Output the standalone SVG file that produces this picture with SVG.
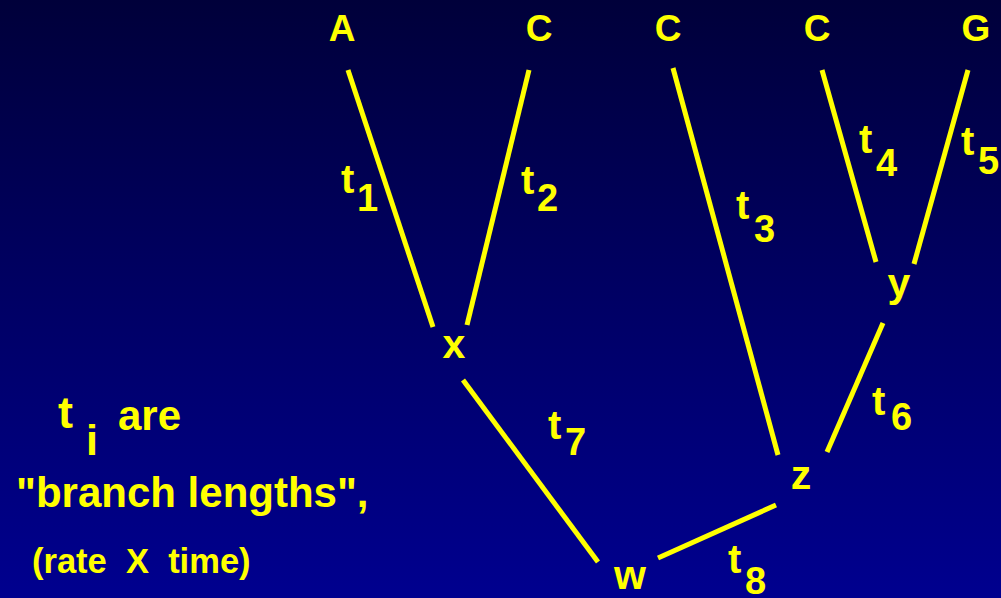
<svg xmlns="http://www.w3.org/2000/svg" width="1001" height="598" viewBox="0 0 1001 598">
<defs>
<linearGradient id="bg" x1="0" y1="0" x2="0" y2="1">
<stop offset="0" stop-color="#00003a"/>
<stop offset="1" stop-color="#00008f"/>
</linearGradient>
<style>
text{font-family:"Liberation Sans",Arial,sans-serif;font-weight:bold;fill:#ffff00}
.leaf{font-size:37px;text-anchor:middle}
.node{font-size:41px;text-anchor:middle}
.t{font-size:40px}
.sub{font-size:38px}
line{stroke:#ffff00;stroke-width:5}
</style>
</defs>
<rect width="1001" height="598" fill="url(#bg)"/>
<g id="connectors">
<line x1="348" y1="70" x2="433" y2="327"/>
<line x1="529" y1="70" x2="467" y2="325"/>
<line x1="673" y1="68" x2="778" y2="455"/>
<line x1="822" y1="70" x2="876" y2="262"/>
<line x1="968" y1="70" x2="914" y2="264"/>
<line x1="883" y1="323" x2="827" y2="452"/>
<line x1="463" y1="380" x2="598" y2="562"/>
<line x1="658" y1="558" x2="776" y2="505"/>
</g>
<g id="leafA"><text class="leaf" x="342" y="41">A</text></g>
<g id="leafC1"><text class="leaf" x="539" y="41">C</text></g>
<g id="leafC2"><text class="leaf" x="668" y="41">C</text></g>
<g id="leafC3"><text class="leaf" x="817" y="41">C</text></g>
<g id="leafG"><text class="leaf" x="976" y="41">G</text></g>
<g id="nodeX"><text class="node" x="454" y="358">x</text></g>
<g id="nodeY"><text class="node" x="899" y="297">y</text></g>
<g id="nodeZ"><text class="node" x="801" y="489">z</text></g>
<g id="nodeW"><text class="node" x="630" y="589">w</text></g>
<g id="labels">
<text class="t" x="341" y="193">t</text><text class="sub" x="357" y="211">1</text>
<text class="t" x="521" y="194">t</text><text class="sub" x="537" y="211">2</text>
<text class="t" x="736" y="219">t</text><text class="sub" x="754" y="242">3</text>
<text class="t" x="859" y="153">t</text><text class="sub" x="876" y="176">4</text>
<text class="t" x="961" y="155">t</text><text class="sub" x="978" y="174">5</text>
<text class="t" x="872" y="415">t</text><text class="sub" x="891" y="430">6</text>
<text class="t" x="548" y="439">t</text><text class="sub" x="565" y="455">7</text>
<text class="t" x="728" y="573">t</text><text class="sub" x="745" y="594">8</text>
</g>
<g id="legend">
<text x="58" y="428" style="font-size:45px">t</text>
<text x="86" y="455" style="font-size:43px">i</text>
<text x="118" y="430" style="font-size:42px">are</text>
<text x="16" y="507" style="font-size:42px">"branch lengths",</text>
<text x="32" y="573" style="font-size:34.5px" xml:space="preserve">(rate  X  time)</text>
</g>
</svg>
